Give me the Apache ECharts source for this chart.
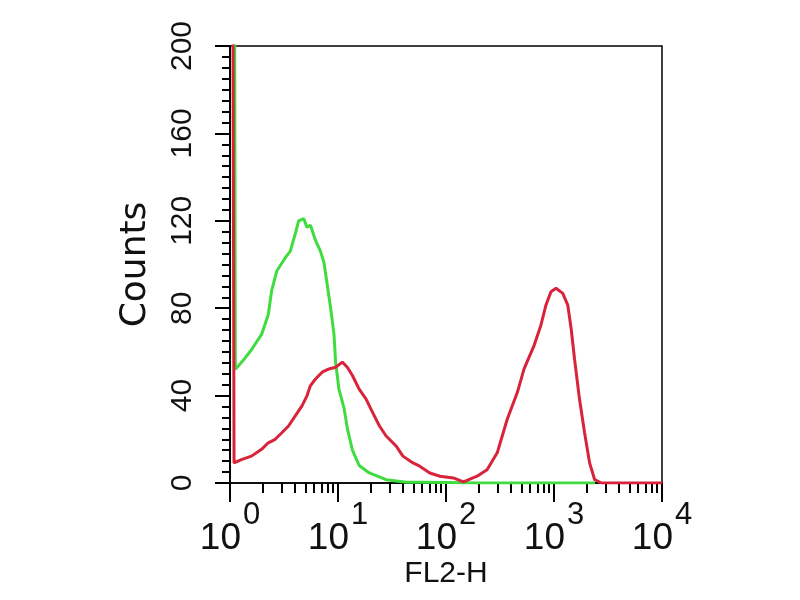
<!DOCTYPE html>
<html style="height: 100%">
<head>
    <meta charset="utf-8">
    <title>FL2-H histogram</title>
    <script type="text/javascript" src="https://cdn.jsdelivr.net/npm/echarts@6/dist/echarts.min.js"></script>
    <style>
        html, body { margin: 0; padding: 0; background: #fff; }
        #main { width: 800px; height: 600px; }
    </style>
</head>
<body>
<div id="main"></div>
<script type="text/javascript">
    // FL2-H channel (log scale) and counts
    var greenChannel = [1.1, 1.12, 1.37, 1.58, 1.96, 2.26, 2.43, 2.71, 3.24, 3.61, 4.02, 4.32, 4.81, 5.17, 5.56,
        6.19, 6.89, 7.40, 7.94, 8.55, 9.18, 9.51, 10.2, 11.4, 12.2, 13.6, 15.7, 19.5, 27.9, 42.9,
        60, 100, 200, 500, 1000, 2400];
    var greenCounts = [260, 52, 57, 61, 68, 77, 88, 97, 103, 106, 114, 120, 121, 117, 118,
        111, 106, 101, 91, 80, 68, 55, 43, 34, 25, 15, 8, 4.6, 1.5, 0.3,
        0.3, 0.2, 0, 0, 0, 0];

    var redChannel = [1.06, 1.09, 1.275, 1.58, 1.96, 2.26, 2.62, 3.02, 3.48, 4.02, 4.64, 5.17, 5.56, 6.19, 7.13,
        8.24, 9.51, 10.97, 12.2, 13.6, 15.7, 18.2, 20.9, 24.2, 27.9, 34.6, 39.9, 49.5, 57.1, 70.8,
        87.9, 117, 145, 194, 240, 298, 369, 458, 528, 655, 756, 842, 937, 1044, 1206,
        1342, 1442, 1549, 1722, 1919, 2137, 2380, 2748, 5000, 10000];
    var redCounts = [260, 9.2, 10.7, 12.3, 15.4, 18.4, 20, 23, 26.1, 30.7, 35.3, 40, 44.6, 47.6, 50.7,
        52.2, 53, 55.3, 53, 49.2, 43, 38.4, 32.3, 26.1, 21.5, 16.9, 12.3, 9.2, 7.7, 4.6,
        3.1, 2.3, 0.5, 3.1, 6.1, 13.8, 29.2, 41.5, 52.2, 63, 72.2, 81.4, 87.5, 89.1, 86.8,
        81.4, 70.6, 56.8, 38.4, 23, 9.2, 1.5, 0, 0, 0];

    // minor ticks of the log axis: 2..9 in every decade
    var minorTickValues = [2, 3, 4, 5, 6, 7, 8, 9, 20, 30, 40, 50, 60, 70, 80, 90,
        200, 300, 400, 500, 600, 700, 800, 900, 2000, 3000, 4000, 5000, 6000, 7000, 8000, 9000];

    function pairs(xs, ys) {
        var out = [];
        for (var i = 0; i < xs.length; i++) out.push([xs[i], ys[i]]);
        return out;
    }

    var chart = echarts.init(document.getElementById('main'));

    var option = {
        backgroundColor: '#fff',
        animation: false,
        grid: {
            left: 230,
            right: 138,
            top: 46,
            bottom: 117,
            show: true,
            borderColor: '#000',
            borderWidth: 1.5,
            outerBoundsMode: 'none'
        },
        xAxis: [{
            type: 'log',
            logBase: 10,
            min: 1,
            max: 10000,
            name: 'FL2-H',
            nameLocation: 'middle',
            nameGap: 76,
            nameMoveOverlap: false,
            nameTextStyle: { color: '#111', fontSize: 30, fontFamily: 'Liberation Sans, Arial, sans-serif' },
            axisLine: { lineStyle: { color: '#000', width: 1.5 } },
            axisTick: { length: 19, lineStyle: { color: '#000', width: 2 } },
            splitLine: { show: false },
            axisLabel: {
                margin: 17,
                color: '#111',
                formatter: function (v) {
                    return '{b|10}{s|' + Math.round(Math.log10(v)) + '}';
                },
                rich: {
                    b: { fontSize: 37, fontFamily: 'Liberation Sans, Arial, sans-serif', color: '#111' },
                    s: { fontSize: 31, fontFamily: 'Liberation Sans, Arial, sans-serif', color: '#111', padding: [0, 0, 46, 2] }
                }
            }
        }, {
            type: 'value',
            min: 0,
            max: 4,
            position: 'bottom',
            axisLine: { show: false },
            axisLabel: { show: false },
            splitLine: { show: false },
            axisTick: {
                length: 10,
                customValues: minorTickValues.map(function (v) { return Math.log10(v); }),
                lineStyle: { color: '#000', width: 2 }
            }
        }],
        yAxis: {
            type: 'value',
            min: 0,
            max: 200,
            interval: 40,
            name: 'Counts',
            nameLocation: 'middle',
            nameRotate: 90,
            nameGap: 76,
            nameMoveOverlap: false,
            nameTextStyle: { color: '#111', fontSize: 36, fontFamily: 'DejaVu Sans, sans-serif' },
            axisLine: { show: true, lineStyle: { color: '#000', width: 2 } },
            axisTick: { show: true, length: 15, lineStyle: { color: '#000', width: 2 } },
            minorTick: { show: true, splitNumber: 8, length: 8, lineStyle: { color: '#000', width: 2 } },
            splitLine: { show: false },
            axisLabel: {
                rotate: 90,
                margin: 32,
                color: '#111',
                fontSize: 30,
                fontFamily: 'Liberation Sans, Arial, sans-serif'
            }
        },
        series: [{
            name: 'control',
            type: 'line',
            xAxisIndex: 0,
            showSymbol: false,
            clip: true,
            lineStyle: { color: '#3fdc3f', width: 3 },
            data: pairs(greenChannel, greenCounts)
        }, {
            name: 'stained',
            type: 'line',
            xAxisIndex: 0,
            showSymbol: false,
            clip: true,
            lineStyle: { color: '#d8233a', width: 3 },
            data: pairs(redChannel, redCounts)
        }]
    };

    chart.setOption(option);
</script>
</body>
</html>
